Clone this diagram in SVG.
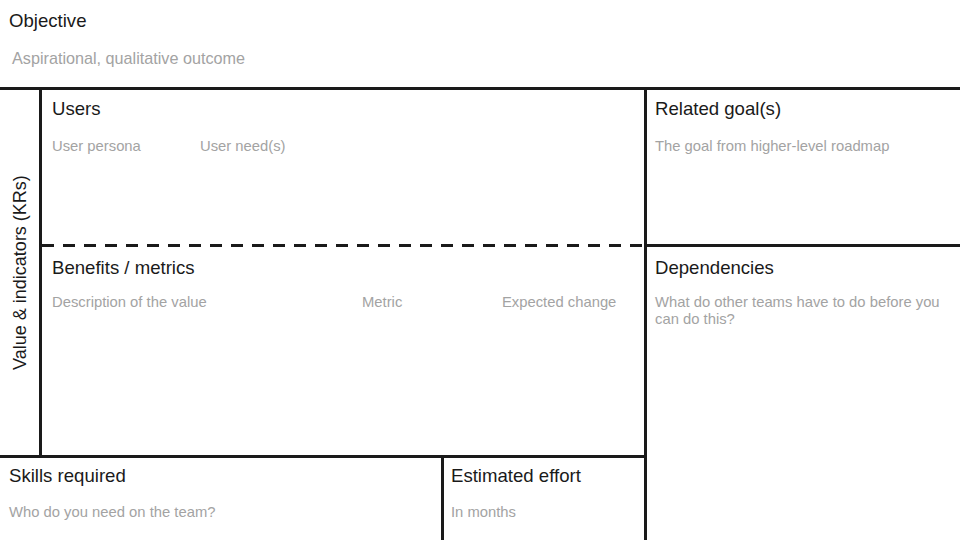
<svg xmlns="http://www.w3.org/2000/svg" width="960" height="540" viewBox="0 0 960 540">
<style>
.t{font-family:"Liberation Sans",Arial,sans-serif;font-size:18.6px;fill:#1a1a1a}
.s{font-family:"Liberation Sans",Arial,sans-serif;font-size:14.8px;fill:#a3a3a3}
.ln{stroke:#1a1a1a;stroke-width:3;fill:none}
.d{stroke:#1a1a1a;stroke-width:3;fill:none;stroke-dasharray:12 9}
</style>
<rect width="960" height="540" fill="#ffffff"/>
<g id="connectors">
<line class="ln" x1="0" y1="88.5" x2="960" y2="88.5"/>
<line class="ln" x1="40.5" y1="88" x2="40.5" y2="457"/>
<line class="ln" x1="645.5" y1="88" x2="645.5" y2="540"/>
<line class="d" x1="42" y1="245.5" x2="645" y2="245.5"/>
<line class="ln" x1="645" y1="245.5" x2="960" y2="245.5"/>
<line class="ln" x1="0" y1="456.5" x2="647" y2="456.5"/>
<line class="ln" x1="442.5" y1="456" x2="442.5" y2="540"/>
</g>
<g id="objective">
<text class="t" x="9" y="27">Objective</text>
<text class="s" x="12" y="64" style="font-size:16.2px">Aspirational, qualitative outcome</text>
</g>
<g id="value-indicators">
<text class="t" x="0" y="0" text-anchor="middle" transform="translate(26,272.5) rotate(-90)" style="font-size:18px">Value &amp; indicators (KRs)</text>
</g>
<g id="users">
<text class="t" x="52" y="115">Users</text>
<text class="s" x="52" y="151">User persona</text>
<text class="s" x="200" y="151">User need(s)</text>
</g>
<g id="related-goals">
<text class="t" x="655" y="115">Related goal(s)</text>
<text class="s" x="655" y="151">The goal from higher-level roadmap</text>
</g>
<g id="benefits">
<text class="t" x="52" y="274">Benefits / metrics</text>
<text class="s" x="52" y="307">Description of the value</text>
<text class="s" x="362" y="307">Metric</text>
<text class="s" x="502" y="307">Expected change</text>
</g>
<g id="dependencies">
<text class="t" x="655" y="274">Dependencies</text>
<text class="s" x="655" y="307">What do other teams have to do before you</text>
<text class="s" x="655" y="324">can do this?</text>
</g>
<g id="skills">
<text class="t" x="9" y="482">Skills required</text>
<text class="s" x="9" y="517">Who do you need on the team?</text>
</g>
<g id="effort">
<text class="t" x="451" y="482">Estimated effort</text>
<text class="s" x="451" y="517">In months</text>
</g>
</svg>
